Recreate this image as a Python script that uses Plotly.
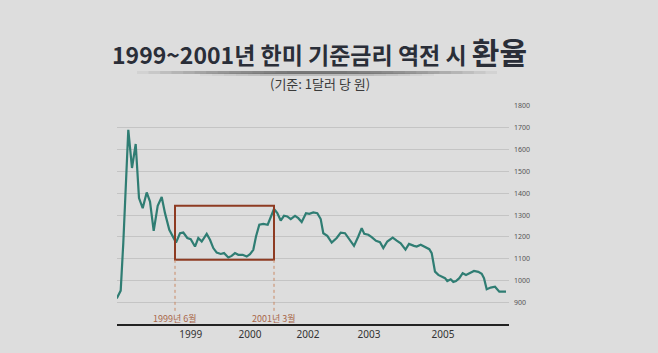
import plotly.graph_objects as go

# position along time axis (chart units) and KRW per USD
t_pos = [-0.3, 3.7, 6.3, 11.3, 15, 18.7, 22, 25.7, 29.7, 33, 36.7, 40.7, 44.7, 48, 52.3, 56.3, 59,
         63, 66.3, 70.3, 73.7, 78, 81.3, 84.7, 89.7, 93, 96.3, 99.7, 103.7, 107, 111.3, 114.7, 118,
         121.3, 125.7, 129.7, 133, 136.3, 139, 142.3, 146.3, 150.7, 153.7, 157, 160.3, 163.7, 167,
         170.3, 173.7, 178, 181.3, 184.7, 189, 192.3, 196.3, 200.3, 203.7, 206.3, 210.3, 214.7,
         219.7, 223.7, 228, 232.3, 237, 241.3, 244.7, 247.3, 251.3, 254.7, 259, 263, 266.3, 270.3,
         275.7, 279.7, 283.7, 288.5, 292, 297, 299.7, 303.7, 308, 312.3, 314.7, 318, 321.3, 324.7,
         328, 330.3, 333.7, 336.3, 339, 342.3, 345.7, 349, 353, 357, 361.3, 364.7, 367, 369.7,
         373.7, 378, 382.3, 389]
rate = [918, 954, 1173, 1691, 1516, 1626, 1378, 1332, 1404, 1362, 1228, 1343, 1383, 1309, 1233,
        1195, 1174, 1217, 1220, 1195, 1190, 1156, 1195, 1179, 1214, 1187, 1149, 1128, 1122, 1126,
        1106, 1113, 1126, 1118, 1118, 1110, 1121, 1141, 1202, 1256, 1260, 1256, 1294, 1328, 1309,
        1275, 1297, 1294, 1282, 1297, 1286, 1268, 1309, 1306, 1312, 1309, 1282, 1217, 1205, 1174,
        1195, 1220, 1217, 1190, 1159, 1202, 1240, 1214, 1210, 1199, 1182, 1176, 1149, 1179, 1197,
        1183, 1171, 1142, 1168, 1159, 1156, 1164, 1153, 1144, 1126, 1041, 1026, 1018, 1011, 998,
        1006, 994, 998, 1011, 1034, 1026, 1037, 1044, 1040, 1031, 1011, 960, 968, 972, 949, 949]

tick_pos = [73.7, 133, 191, 252, 326]
tick_text = ["1999", "2000", "2002", "2003", "2005"]
y_ticks = [900, 1000, 1100, 1200, 1300, 1400, 1500, 1600, 1700, 1800]

box_start, box_end = 58, 157
box_low, box_high = 1095, 1343
box_labels = ["1999년 6월", "2001년 3월"]

BG = "#dddddd"
X_RANGE = [0, 392]
Y_RANGE = [801, 1800]


def px_x(p):
    return (p - 117) / 392


def px_y(p):
    return (324 - p) / 218


fig = go.Figure()
fig.add_trace(go.Scatter(x=t_pos, y=rate, mode="lines",
                         line=dict(color="#2f7d73", width=2.2), hoverinfo="skip",
                         cliponaxis=False))

# highlight box
fig.add_shape(type="rect", x0=box_start, x1=box_end, y0=box_low, y1=box_high,
              line=dict(color="#8e3b22", width=2), layer="above")
for xp, lab in zip([box_start, box_end], box_labels):
    fig.add_shape(type="line", x0=xp, x1=xp, y0=box_low, y1=850,
                  line=dict(color="#c98a66", width=1, dash="dot"))
    fig.add_annotation(x=xp, y=826, text=lab, showarrow=False,
                       font=dict(family="Noto Sans CJK KR", size=9, color="#a9684a"),
                       xanchor="center", yanchor="middle")

# soft shadow under the title (drawn first so the text sits above)
n = 14
for i in range(n):
    f = i / (n - 1)
    half = 180 - 150 * f
    fig.add_shape(type="line", xref="paper", yref="paper",
                  x0=px_x(317 - half), x1=px_x(317 + half),
                  y0=px_y(72.5), y1=px_y(72.5),
                  line=dict(color="rgba(70,70,70,0.07)", width=3), layer="below")
for i in range(6):
    fig.add_shape(type="line", xref="paper", yref="paper",
                  x0=px_x(200 + 12 * i), x1=px_x(434 - 12 * i),
                  y0=px_y(74.5), y1=px_y(74.5),
                  line=dict(color="rgba(90,90,90,0.05)", width=3), layer="below")

# title
fig.add_annotation(xref="paper", yref="paper", x=px_x(319), y=px_y(51),
                   text="<b>1999~2001년 한미 기준금리 역전 시 </b><b><span style='font-size:30px'>환율</span></b>",
                   showarrow=False, xanchor="center", yanchor="middle",
                   font=dict(family="Noto Sans CJK KR", size=23, color="#2a2e38", weight=900))
fig.add_annotation(xref="paper", yref="paper", x=px_x(320), y=px_y(84),
                   text="(기준: 1달러 당 원)", showarrow=False, xanchor="center", yanchor="middle",
                   font=dict(family="Noto Sans CJK KR", size=13, color="#3a3a3a"))

fig.update_layout(
    width=658, height=353,
    margin=dict(l=117, r=149, t=106, b=29),
    paper_bgcolor=BG, plot_bgcolor=BG,
    showlegend=False,
    xaxis=dict(range=X_RANGE, tickvals=tick_pos, ticktext=tick_text, showgrid=False,
               zeroline=False, showline=True, linecolor="#222222", linewidth=2,
               ticks="", tickfont=dict(family="Noto Sans", size=10, color="#333333")),
    yaxis=dict(range=Y_RANGE, side="right", tickvals=y_ticks, showgrid=True,
               gridcolor="#c4c4c4", gridwidth=1, zeroline=False, showline=False, ticks="",
               ticklabelstandoff=4,
               tickfont=dict(family="Noto Sans", size=7, color="#555555")),
)

fig.write_html("out.html")
